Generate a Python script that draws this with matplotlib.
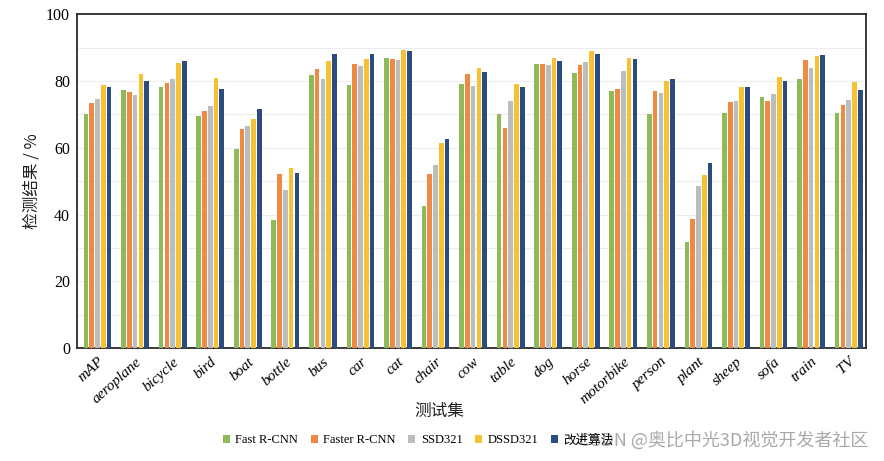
import numpy as np
import matplotlib
matplotlib.use("Agg")
import matplotlib.pyplot as plt
from matplotlib.patches import Patch

# data
categories = ["mAP", "aeroplane", "bicycle", "bird", "boat", "bottle", "bus", "car", "cat",
              "chair", "cow", "table", "dog", "horse", "motorbike", "person", "plant",
              "sheep", "sofa", "train", "TV"]
fast_rcnn = [70.2, 77.2, 78.3, 69.5, 59.5, 38.3, 81.9, 78.8, 87.0, 42.7, 79.0, 70.0, 85.1,
             82.3, 76.9, 70.0, 31.8, 70.3, 75.1, 80.6, 70.5]
faster_rcnn = [73.4, 76.7, 79.3, 71.1, 65.6, 52.1, 83.5, 85.1, 86.7, 52.0, 82.2, 66.0, 85.1,
               84.9, 77.7, 76.9, 38.8, 73.8, 74.1, 86.4, 72.7]
ssd321 = [74.6, 75.7, 80.5, 72.4, 66.4, 47.5, 80.6, 84.5, 86.4, 54.8, 78.5, 74.1, 84.7,
          85.6, 83.0, 76.3, 48.5, 74.1, 76.1, 83.8, 74.3]
dssd321 = [78.8, 82.2, 85.3, 80.8, 68.5, 53.9, 85.9, 86.5, 89.3, 61.3, 83.8, 79.0, 87.0,
           89.0, 87.0, 80.0, 51.7, 78.2, 81.1, 87.5, 79.7]
ours = [78.3, 80.0, 85.9, 77.5, 71.5, 52.3, 88.0, 88.0, 88.9, 62.7, 82.6, 78.2, 86.1,
        88.2, 86.7, 80.5, 55.3, 78.2, 79.9, 87.7, 77.3]

series = [fast_rcnn, faster_rcnn, ssd321, dssd321, ours]
labels = ["Fast R-CNN", "Faster R-CNN", "SSD321", "DSSD321", "改进算法"]
colors = ["#8fba5a", "#ee8a44", "#bdbdbd", "#f6c233", "#2b4c7e"]

serif = ["Liberation Serif", "Noto Sans CJK SC", "DejaVu Sans"]
cjk = ["Noto Sans CJK SC", "DejaVu Sans"]

fig = plt.figure(figsize=(8.84, 4.61), dpi=100)
ax = fig.add_axes([0.087, 0.245, 0.893, 0.724])

x = np.arange(len(categories))
step = 0.154
width = 0.125
for i, (vals, c) in enumerate(zip(series, colors)):
    ax.bar(x + (i - 2) * step, vals, width=width, color=c, zorder=3)

ax.set_xlim(-0.55, len(categories) - 0.53)
ax.set_ylim(0, 100)
ax.set_yticks(np.arange(0, 101, 20))
ax.set_yticks(np.arange(0, 101, 10), minor=True)
ax.grid(axis="y", which="both", color="#ededed", linewidth=0.8, zorder=0)
ax.tick_params(axis="both", which="both", length=0)
ax.tick_params(axis="y", pad=5)
ax.tick_params(axis="x", pad=5)

for lab in ax.get_yticklabels():
    lab.set_family(serif)
    lab.set_fontsize(11.5)
ax.set_xticks(x)
ax.set_xticklabels(categories, rotation=42, ha="right", rotation_mode="anchor",
                   family=serif, style="italic", fontsize=11)

for s in ax.spines.values():
    s.set_color("#2a2a2a")
    s.set_linewidth(1.3)

ax.set_ylabel("检测结果 / %", family=cjk, fontsize=12, labelpad=4, color="#222222")
fig.text(0.497, 0.107, "测试集", family=cjk, fontsize=12, ha="center", va="center",
         color="#222222")

handles = [Patch(facecolor=c, edgecolor="none") for c in colors]
fig.legend(handles, labels, loc="center left", bbox_to_anchor=(0.245, 0.045), ncol=5,
           frameon=False, borderpad=0, handlelength=0.55, handleheight=0.55,
           handletextpad=0.45, columnspacing=1.0, prop={"family": serif, "size": 9})

# watermark over the legend, as in the picture
fig.text(0.982, 0.045, "CSDN @奥比中光3D视觉开发者社区", family=cjk, fontsize=13,
         ha="right", va="center", color="#9a9a9a", alpha=0.85)

fig.savefig("out.png", dpi=100)
